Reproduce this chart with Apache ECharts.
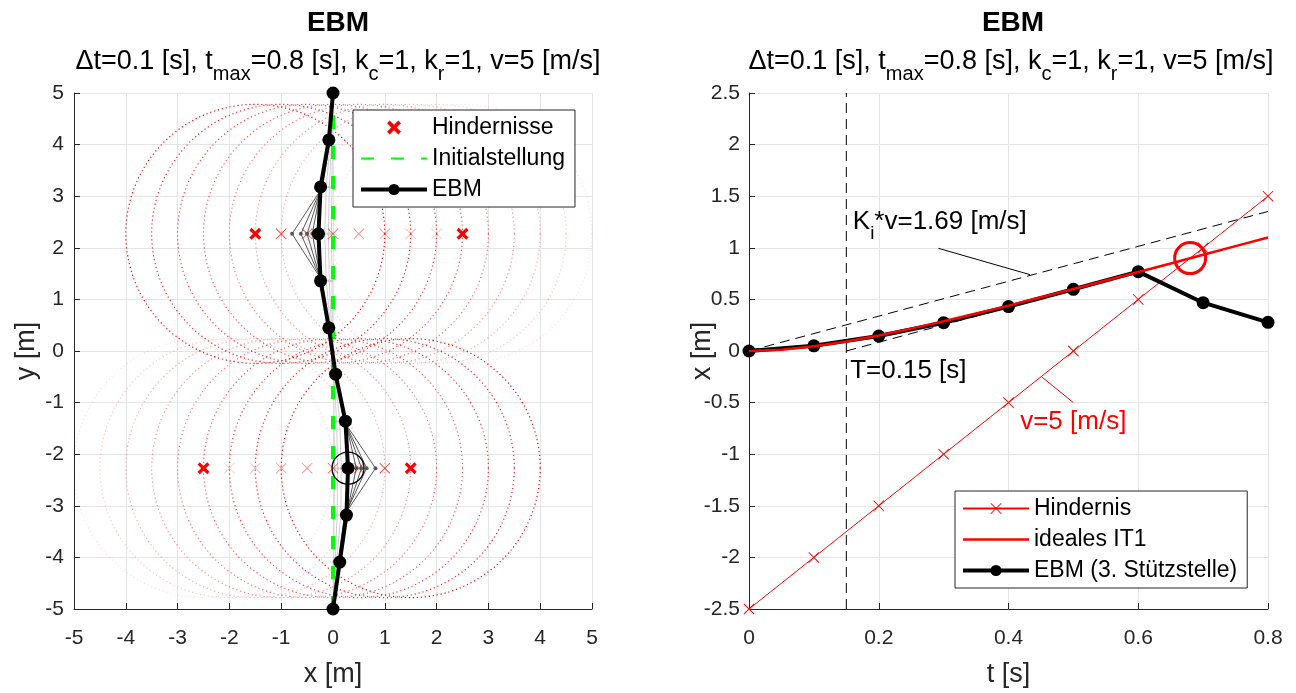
<!DOCTYPE html>
<html><head><meta charset="utf-8">
<script src="https://cdn.jsdelivr.net/npm/echarts@6/dist/echarts.min.js"></script>
<style>html,body{margin:0;padding:0;background:#fff}#c{width:1296px;height:693px}</style>
</head><body><div id="c"></div><script>
const FONT = '"Liberation Sans", Arial, Helvetica, sans-serif';

// ---------------- Left panel (x-y plane) ----------------
const pathY = [5, 4.09, 3.18, 2.27, 1.36, 0.45, -0.45, -1.36, -2.27, -3.18, -4.09, -5];
const ebmX = [0, -0.08, -0.24, -0.28, -0.24, -0.08, 0.05, 0.24, 0.29, 0.26, 0.13, 0];
const initialX = [0, 0];
const initialY = [-5, 5];
const iterDarkX = [
  [0, -0.06, -0.2, -0.79, -0.21, -0.07, 0.04, 0.21, 0.82, 0.22, 0.1, 0],
  [0, -0.07, -0.21, -0.62, -0.22, -0.07, 0.045, 0.22, 0.65, 0.23, 0.11, 0],
  [0, -0.07, -0.22, -0.5, -0.23, -0.08, 0.05, 0.23, 0.55, 0.25, 0.12, 0],
  [0, -0.08, -0.23, -0.4, -0.23, -0.08, 0.05, 0.24, 0.45, 0.26, 0.12, 0]
];
const iterLightX = [
  [0, -0.01, -0.02, -0.03, -0.02, -0.01, 0.01, 0.02, 0.03, 0.02, 0.01, 0],
  [0, -0.03, -0.07, -0.09, -0.07, -0.03, 0.02, 0.07, 0.09, 0.08, 0.04, 0],
  [0, -0.05, -0.13, -0.16, -0.13, -0.05, 0.03, 0.13, 0.16, 0.15, 0.07, 0]
];
const obstacleTopY = 2.27;
const obstacleBottomY = -2.27;
const obstacleTopX = [-1.5, -1, -0.5, 0, 0.5, 1, 1.5, 2, 2.5];
const obstacleBottomX = [1.5, 1, 0.5, 0, -0.5, -1, -1.5, -2, -2.5];
const obstacleRadius = 2.5;
const hindernisseX = [-1.5, 2.5, 1.5, -2.5];
const hindernisseY = [2.27, 2.27, -2.27, -2.27];
const markedPoint = [0.29, -2.27];
const xyTicks = [-5, 5, 1];

// ---------------- Right panel (t-x) ----------------
const tSteps = [0, 0.1, 0.2, 0.3, 0.4, 0.5, 0.6, 0.7, 0.8];
const hindernisPos = [-2.5, -2, -1.5, -1, -0.5, 0, 0.5, 1, 1.5];
const ebmSupportPos = [0, 0.05, 0.145, 0.274, 0.43, 0.598, 0.769, 0.468, 0.278];
const idealT = [0, 0.05, 0.1, 0.15, 0.2, 0.25, 0.3, 0.35, 0.4, 0.45, 0.5, 0.55, 0.6, 0.65, 0.7, 0.75, 0.8];
const idealPos = [0, 0.013, 0.046, 0.093, 0.151, 0.217, 0.288, 0.363, 0.44, 0.52, 0.601, 0.683, 0.765, 0.848, 0.932, 1.016, 1.10];
const tangentT = [0, 0.8];
const tangentPos = [0, 1.352];
const asymptoteT = [0.15, 0.8];
const asymptotePos = [0, 1.099];
const timeConstT = 0.15;
const kLineT = [0.292, 0.433];
const kLinePos = [0.995, 0.74];
const vLineT = [0.451, 0.5];
const vLinePos = [-0.25, -0.5];
const collision = [0.68, 0.9];
const labelKPos = [0.16, 1.25];
const labelTPos = [0.156, -0.19];
const labelVPos = [0.418, -0.69];
const tTicks = [0, 0.8, 0.2];
const posTicks = [-2.5, 2.5, 0.5];

const titleMain = 'EBM';
const subtitleRich = '{m|Δt=0.1 [s], t}{s|max}{m|=0.8 [s], k}{s|c}{m|=1, k}{s|r}{m|=1, v=5 [m/s]}';

// ---------------- Styling helpers ----------------
const X_THIN = 'path://M0,0.6 L0.6,0 L10,9.4 L9.4,10 Z M9.4,0 L10,0.6 L0.6,10 L0,9.4 Z';
const X_BOLD = 'path://M0,1.9 L1.9,0 L10,8.1 L8.1,10 Z M8.1,0 L10,1.9 L1.9,10 L0,8.1 Z';
const AX = '#262626';
const GRIDC = '#e4e4e4';
function fade(i) { return Math.max(0.1, 1 - i * 0.11); }

function richFor(color, size, subSize) {
  return {
    m: { fontSize: size, color: color, fontFamily: FONT, fontWeight: 'normal' },
    s: { fontSize: subSize, color: color, fontFamily: FONT, fontWeight: 'normal', padding: [24, 0, 0, 0] }
  };
}

function axisCommon(extra) {
  return Object.assign({
    type: 'value',
    nameLocation: 'middle',
    nameMoveOverlap: false,
    nameTextStyle: { fontSize: 27, color: AX, fontFamily: FONT },
    axisLine: { show: true, onZero: false, lineStyle: { color: AX, width: 1 } },
    axisTick: { show: true, inside: true, length: 6, lineStyle: { color: AX, width: 1 } },
    splitLine: { show: true, lineStyle: { color: GRIDC, width: 1 } }
  }, extra);
}

const series = [];

// obstacle safety circles (dotted)
const circleData = [];
obstacleTopX.forEach((x, i) => circleData.push([x, obstacleTopY, fade(i)]));
obstacleBottomX.forEach((x, i) => circleData.push([x, obstacleBottomY, fade(i)]));
series.push({
  type: 'custom', name: 'circles', xAxisIndex: 0, yAxisIndex: 0, silent: true, z: 1,
  data: circleData,
  renderItem: function (params, api) {
    const c = api.coord([api.value(0), api.value(1)]);
    const r = api.size([obstacleRadius, 0])[0];
    return {
      type: 'circle', shape: { cx: c[0], cy: c[1], r: r },
      style: { fill: 'none', stroke: '#ff0000', lineWidth: 1.2, lineDash: [1.2, 2.8], opacity: api.value(2) }
    };
  }
});

// light iteration paths
iterLightX.forEach((xs, k) => {
  series.push({
    type: 'line', name: 'iterL' + k, xAxisIndex: 0, yAxisIndex: 0, silent: true, z: 2,
    data: pathY.map((y, i) => [xs[i], y]),
    symbol: 'circle', symbolSize: 3, showSymbol: true,
    itemStyle: { color: '#c8c8c8' },
    lineStyle: { color: '#cfcfcf', width: 1 }
  });
});

// intermediate obstacle positions
const midMarkers = [];
for (let i = 1; i < obstacleTopX.length - 1; i++) {
  midMarkers.push({ value: [obstacleTopX[i], obstacleTopY], itemStyle: { opacity: fade(i) * 0.85 } });
  midMarkers.push({ value: [obstacleBottomX[i], obstacleBottomY], itemStyle: { opacity: fade(i) * 0.85 } });
}
series.push({
  type: 'scatter', name: 'obstMid', xAxisIndex: 0, yAxisIndex: 0, silent: true, z: 2,
  symbol: X_THIN, symbolSize: 11, itemStyle: { color: '#ff0000' }, data: midMarkers
});

// initial straight path
series.push({
  type: 'line', name: 'Initialstellung', xAxisIndex: 0, yAxisIndex: 0, z: 3,
  data: initialY.map((y, i) => [initialX[i], y]), symbol: 'none',
  lineStyle: { color: '#00ff00', width: 4, type: [13, 17] },
  itemStyle: { color: '#00ff00' }
});

// dark iteration paths
iterDarkX.forEach((xs, k) => {
  series.push({
    type: 'line', name: 'iterD' + k, xAxisIndex: 0, yAxisIndex: 0, silent: true, z: 3,
    data: pathY.map((y, i) => [xs[i], y]),
    symbol: 'circle', symbolSize: 4, showSymbol: true,
    itemStyle: { color: '#555' },
    lineStyle: { color: '#444', width: 0.9 }
  });
});

// final EBM path
series.push({
  type: 'line', name: 'EBM', xAxisIndex: 0, yAxisIndex: 0, z: 4,
  data: pathY.map((y, i) => [ebmX[i], y]),
  symbol: 'circle', symbolSize: 13, showSymbol: true,
  itemStyle: { color: '#000' }, lineStyle: { color: '#000', width: 4 }
});

// marked circle
series.push({
  type: 'scatter', name: 'mark', xAxisIndex: 0, yAxisIndex: 0, silent: true, z: 5,
  symbol: 'circle', symbolSize: 32, data: [markedPoint],
  itemStyle: { color: 'rgba(0,0,0,0)', borderColor: '#000', borderWidth: 1.3, opacity: 1 }
});

// obstacles (bold)
series.push({
  type: 'scatter', name: 'Hindernisse', xAxisIndex: 0, yAxisIndex: 0, z: 6,
  symbol: X_BOLD, symbolSize: 12, itemStyle: { color: '#ff0000', opacity: 1 },
  data: hindernisseX.map((x, i) => [x, hindernisseY[i]])
});

// ---------- right panel series ----------
series.push({
  type: 'line', name: 'vline', xAxisIndex: 1, yAxisIndex: 1, silent: true, z: 2,
  data: [[timeConstT, posTicks[0]], [timeConstT, posTicks[1]]], symbol: 'none',
  lineStyle: { color: '#000', width: 1, type: [10, 6] }
});
series.push({
  type: 'line', name: 'tangent', xAxisIndex: 1, yAxisIndex: 1, silent: true, z: 2,
  data: tangentT.map((t, i) => [t, tangentPos[i]]), symbol: 'none',
  lineStyle: { color: '#000', width: 1, type: [10, 6] }
});
series.push({
  type: 'line', name: 'asymptote', xAxisIndex: 1, yAxisIndex: 1, silent: true, z: 2,
  data: asymptoteT.map((t, i) => [t, asymptotePos[i]]), symbol: 'none',
  lineStyle: { color: '#000', width: 1, type: [10, 6] }
});
series.push({
  type: 'line', name: 'kLine', xAxisIndex: 1, yAxisIndex: 1, silent: true, z: 2,
  data: kLineT.map((t, i) => [t, kLinePos[i]]), symbol: 'none',
  lineStyle: { color: '#000', width: 1 }
});
series.push({
  type: 'line', name: 'vLine', xAxisIndex: 1, yAxisIndex: 1, silent: true, z: 2,
  data: vLineT.map((t, i) => [t, vLinePos[i]]), symbol: 'none',
  lineStyle: { color: '#ff0000', width: 1 }
});
series.push({
  type: 'line', name: 'Hindernis', xAxisIndex: 1, yAxisIndex: 1, z: 3,
  data: tSteps.map((t, i) => [t, hindernisPos[i]]),
  symbol: X_THIN, symbolSize: 11, showSymbol: true,
  itemStyle: { color: '#ff0000' }, lineStyle: { color: '#ff0000', width: 1 }
});
series.push({
  type: 'line', name: 'EBM (3. Stützstelle)', xAxisIndex: 1, yAxisIndex: 1, z: 4,
  data: tSteps.map((t, i) => [t, ebmSupportPos[i]]),
  symbol: 'circle', symbolSize: 13, showSymbol: true,
  itemStyle: { color: '#000' }, lineStyle: { color: '#000', width: 4 }
});
series.push({
  type: 'line', name: 'ideales IT1', xAxisIndex: 1, yAxisIndex: 1, z: 5,
  data: idealT.map((t, i) => [t, idealPos[i]]), symbol: 'none',
  itemStyle: { color: '#ff0000' }, lineStyle: { color: '#ff0000', width: 2.5 }
});
series.push({
  type: 'scatter', name: 'collision', xAxisIndex: 1, yAxisIndex: 1, silent: true, z: 6,
  symbol: 'circle', symbolSize: 31, data: [collision],
  itemStyle: { color: 'rgba(0,0,0,0)', borderColor: '#ff0000', borderWidth: 3, opacity: 1 }
});
function textPoint(name, pos, fmt, color) {
  return {
    type: 'scatter', name: name, xAxisIndex: 1, yAxisIndex: 1, silent: true, z: 7,
    symbolSize: 0, data: [pos], itemStyle: { opacity: 1 },
    label: {
      show: true, position: [0, 0], align: 'left', verticalAlign: 'middle',
      color: color, fontSize: 26, fontFamily: FONT,
      formatter: fmt, rich: richFor(color, 26, 19)
    }
  };
}
series.push(textPoint('lblK', labelKPos, '{m|K}{s|i}{m|*v=1.69 [m/s]}', '#000'));
series.push(textPoint('lblT', labelTPos, '{m|T=0.15 [s]}', '#000'));
series.push(textPoint('lblV', labelVPos, '{m|v=5 [m/s]}', '#ff0000'));

const legendCommon = {
  orient: 'vertical', backgroundColor: '#fff', borderColor: AX, borderWidth: 1,
  itemWidth: 66, itemHeight: 14, itemGap: 8, padding: [6, 10, 6, 6],
  textStyle: { fontSize: 23, color: '#000', fontFamily: FONT },
  selectedMode: false
};
const hideSym = { opacity: 0 };

const option = {
  animation: false,
  backgroundColor: '#fff',
  textStyle: { fontFamily: FONT },
  title: [
    { text: titleMain, left: 333, top: 4, textAlign: 'center', textStyle: { fontSize: 28, fontWeight: 'bold', color: '#000', fontFamily: FONT } },
    { text: subtitleRich, left: 333, top: 35, textAlign: 'center', textStyle: { fontWeight: 'normal', rich: richFor('#000', 27, 20) } },
    { text: titleMain, left: 1008, top: 4, textAlign: 'center', textStyle: { fontSize: 28, fontWeight: 'bold', color: '#000', fontFamily: FONT } },
    { text: subtitleRich, left: 1006, top: 35, textAlign: 'center', textStyle: { fontWeight: 'normal', rich: richFor('#000', 27, 20) } }
  ],
  legend: [
    Object.assign({ left: 353, top: 110, data: [
      { name: 'Hindernisse' },
      { name: 'Initialstellung', itemStyle: hideSym },
      { name: 'EBM', lineStyle: { width: 4 } }
    ] }, legendCommon),
    Object.assign({ left: 955, top: 491, data: [
      { name: 'Hindernis' },
      { name: 'ideales IT1', itemStyle: hideSym, lineStyle: { width: 2.5 } },
      { name: 'EBM (3. Stützstelle)', lineStyle: { width: 4 } }
    ] }, legendCommon)
  ],
  grid: [
    { left: 74, top: 93, width: 518, height: 516, containLabel: false },
    { left: 749, top: 93, width: 519, height: 516, containLabel: false }
  ],
  xAxis: [
    axisCommon({ gridIndex: 0, min: xyTicks[0], max: xyTicks[1], interval: xyTicks[2], name: 'x [m]', nameGap: 52, axisLabel: { fontSize: 21, color: AX, fontFamily: FONT, margin: 19 } }),
    axisCommon({ gridIndex: 1, min: tTicks[0], max: tTicks[1], interval: tTicks[2], name: 't [s]', nameGap: 52, axisLabel: { fontSize: 21, color: AX, fontFamily: FONT, margin: 19 } })
  ],
  yAxis: [
    axisCommon({ gridIndex: 0, min: xyTicks[0], max: xyTicks[1], interval: xyTicks[2], name: 'y [m]', nameGap: 34, axisLabel: { fontSize: 21, color: AX, fontFamily: FONT, margin: 10 } }),
    axisCommon({ gridIndex: 1, min: posTicks[0], max: posTicks[1], interval: posTicks[2], name: 'x [m]', nameGap: 33, axisLabel: { fontSize: 21, color: AX, fontFamily: FONT, margin: 9 } })
  ],
  series: series
};

const chart = echarts.init(document.getElementById('c'), null, { renderer: 'canvas' });
chart.setOption(option);
</script></body></html>
